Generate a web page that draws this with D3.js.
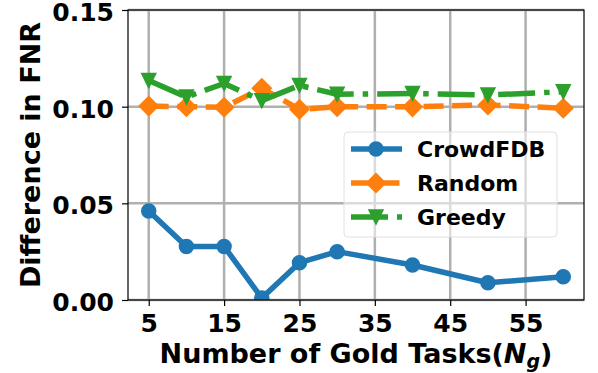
<!DOCTYPE html>
<html>
<head>
<meta charset="utf-8">
<script src="https://cdn.jsdelivr.net/npm/d3@7"></script>
<style>
  body { margin: 0; background: #fff; }
  svg { display: block; font-family: "DejaVu Sans", sans-serif; font-weight: bold; }
</style>
</head>
<body>
<svg id="chart" width="598" height="373"></svg>
<script>
// data
const goldTasks = [5, 10, 15, 20, 25, 30, 40, 50, 60];
const crowdFDB = [0.046, 0.0277, 0.0277, 0.001, 0.0193, 0.025, 0.0181, 0.0089, 0.012];
const random = [0.1003, 0.1, 0.0997, 0.1095, 0.0986, 0.1, 0.0999, 0.1009, 0.0992];
const greedy = [0.1135, 0.105, 0.112, 0.1031, 0.111, 0.1064, 0.1068, 0.106, 0.1077];
const xTicks = [5, 15, 25, 35, 45, 55];
const yTicks = [0, 0.05, 0.10, 0.15];
const seriesNames = ["CrowdFDB", "Random", "Greedy"];

const margin = {left: 128, right: 14, top: 10, bottom: 73};
const W = 598, H = 373;
const svg = d3.select("#chart");

const x = d3.scaleLinear().domain([2.25, 62.75]).range([margin.left, W - margin.right]);
const y = d3.scaleLinear().domain([0, 0.15]).range([H - margin.bottom, margin.top]);

const series = [
  {name: seriesNames[0], values: crowdFDB, color: "#1f77b4", dash: null, marker: "circle"},
  {name: seriesNames[1], values: random, color: "#ff7f0e", dash: "20,8.5", marker: "diamond"},
  {name: seriesNames[2], values: greedy, color: "#2ca02c", dash: "37,9,5.5,9", marker: "triangle"}
];

function markerPath(type) {
  if (type === "circle") return d3.symbol(d3.symbolCircle, Math.PI * 7 * 7)();
  if (type === "diamond") return "M0,-9.5L9.5,0L0,9.5L-9.5,0Z";
  return "M0,7L-7,-7L7,-7Z"; // triangle down
}

// grid
const grid = svg.append("g");
grid.selectAll(".gx").data(xTicks).join("line")
  .attr("x1", d => x(d)).attr("x2", d => x(d))
  .attr("y1", y(0.15)).attr("y2", y(0))
  .attr("stroke", "#b0b0b0").attr("stroke-width", 2.5);
grid.selectAll(".gy").data(yTicks).join("line")
  .attr("y1", d => y(d)).attr("y2", d => y(d))
  .attr("x1", x.range()[0]).attr("x2", x.range()[1])
  .attr("stroke", "#b0b0b0").attr("stroke-width", 2.5);

svg.append("clipPath").attr("id", "plotClip").append("rect")
  .attr("x", margin.left).attr("y", margin.top)
  .attr("width", W - margin.left - margin.right).attr("height", H - margin.top - margin.bottom);

const plot = svg.append("g").attr("clip-path", "url(#plotClip)");
const line = d3.line().x((d, i) => x(goldTasks[i])).y(d => y(d));

series.forEach(s => {
  plot.append("path").datum(s.values)
    .attr("d", line)
    .attr("fill", "none")
    .attr("stroke", s.color)
    .attr("stroke-width", 5.5)
    .attr("stroke-dasharray", s.dash)
    .attr("stroke-linejoin", "round");
  plot.selectAll(null).data(s.values).join("path")
    .attr("transform", (d, i) => `translate(${x(goldTasks[i])},${y(d)})`)
    .attr("d", markerPath(s.marker))
    .attr("fill", s.color)
    .attr("stroke", s.color)
    .attr("stroke-width", 1.5);
});

// axes
const xAxis = svg.append("g").attr("transform", `translate(0,${y(0)})`)
  .call(d3.axisBottom(x).tickValues(xTicks).tickSize(6).tickPadding(8).tickFormat(d3.format("d")));
const yAxis = svg.append("g").attr("transform", `translate(${margin.left},0)`)
  .call(d3.axisLeft(y).tickValues(yTicks).tickSize(6).tickPadding(8).tickFormat(d3.format(".2f")));
[xAxis, yAxis].forEach(a => {
  a.select(".domain").remove();
  a.selectAll(".tick line").attr("stroke", "#000").attr("stroke-width", 1.2);
  a.selectAll(".tick text").attr("fill", "#000").attr("font-size", 25)
    .attr("font-family", "DejaVu Sans").attr("font-weight", "bold");
});
yAxis.selectAll(".tick text").attr("dy", "0.42em");

// spines
svg.append("rect")
  .attr("x", margin.left).attr("y", margin.top)
  .attr("width", W - margin.left - margin.right).attr("height", H - margin.top - margin.bottom)
  .attr("fill", "none").attr("stroke", "#000").attr("stroke-width", 1.2);

// axis labels
const xl = svg.append("text")
  .attr("x", (x.range()[0] + x.range()[1]) / 2).attr("y", 363)
  .attr("text-anchor", "middle").attr("font-size", 27);
xl.append("tspan").text("Number of Gold Tasks(");
xl.append("tspan").attr("font-style", "italic").text("N");
xl.append("tspan").attr("font-style", "italic").attr("font-size", 19).attr("dy", 5).text("g");
xl.append("tspan").attr("dy", -5).text(")");

svg.append("text")
  .attr("transform", `translate(40,${(y(0) + y(0.15)) / 2}) rotate(-90)`)
  .attr("text-anchor", "middle").attr("font-size", 27)
  .text("Difference in FNR");

// legend
const legend = svg.append("g").attr("transform", "translate(344,132)");
legend.append("rect")
  .attr("width", 213).attr("height", 105).attr("rx", 4)
  .attr("fill", "#fff").attr("fill-opacity", 0.55)
  .attr("stroke", "#e0e0e0").attr("stroke-width", 1);
series.forEach((s, i) => {
  const row = legend.append("g").attr("transform", `translate(0,${17 + i * 34})`);
  row.append("line").attr("x1", 7).attr("x2", 58)
    .attr("stroke", s.color).attr("stroke-width", 5.5)
    .attr("stroke-dasharray", s.dash);
  row.append("path").attr("transform", "translate(32,0)")
    .attr("d", markerPath(s.marker))
    .attr("fill", s.color).attr("stroke", s.color).attr("stroke-width", 1.5);
  row.append("text").attr("x", 73).attr("y", 8)
    .attr("font-size", 22).text(s.name);
});
</script>
</body>
</html>
